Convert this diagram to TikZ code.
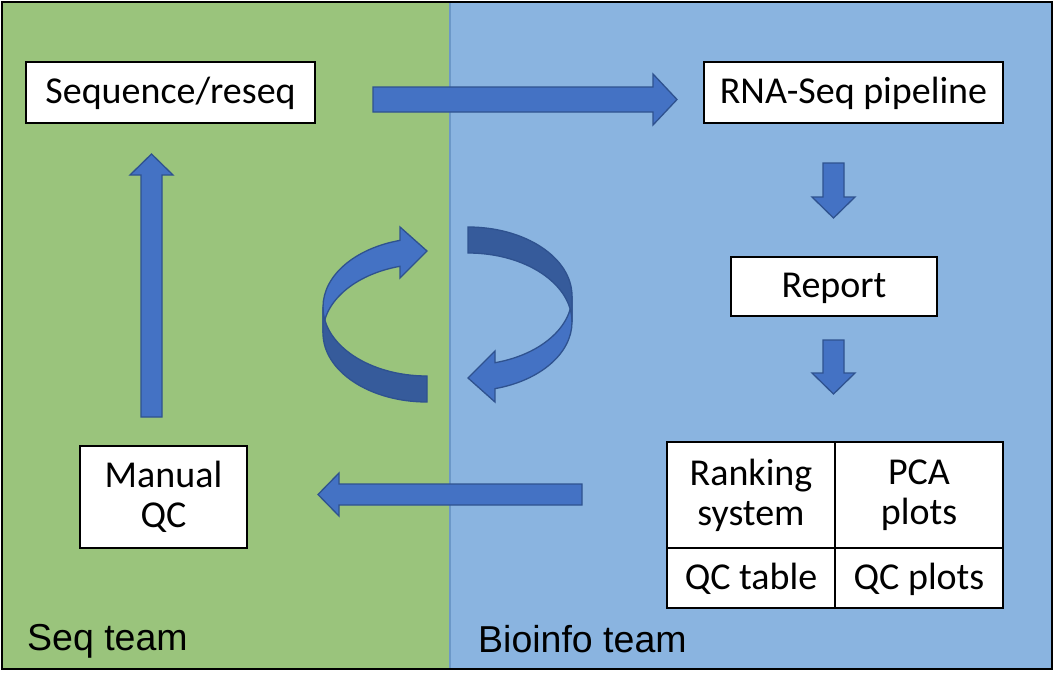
\documentclass[tikz,border=0pt]{standalone}
\usepackage{fontspec}
\setmainfont{Carlito}
\newfontfamily\teamfont{Liberation Sans}
\definecolor{seqgreen}{HTML}{9AC47C}
\definecolor{bioblue}{HTML}{8AB4E0}
\definecolor{arrowfill}{HTML}{4472C4}
\definecolor{arrowline}{HTML}{2F528F}
\definecolor{arrowdark}{HTML}{365B9B}
\definecolor{divider}{HTML}{6C98C8}
\newcommand{\curvedribbon}{%
  \draw[blockarrow] (323,307) arc[start angle=180, end angle=255, x radius=104, y radius=69]
    -- (400,227) -- (427,251) -- (400,278) -- (400,266.3)
    arc[start angle=255, end angle=180, x radius=104, y radius=69] -- cycle;
  \draw[blockarrow, fill=arrowdark] (323,307) arc[start angle=180, end angle=90, x radius=104, y radius=69]
    -- (427,402) arc[start angle=90, end angle=180, x radius=104, y radius=69] -- cycle;
}
\begin{document}
\begin{tikzpicture}[x=1pt,y=-1pt,
  box/.style={draw=black, line width=1.3pt, fill=white, inner sep=0pt,
    font=\fontsize{38}{40}\selectfont, align=center},
  onebox/.style={box, text height=28pt, text depth=6pt},
  blockarrow/.style={draw=arrowline, fill=arrowfill, line width=1.3pt, line join=miter},
  teamlabel/.style={anchor=base west, inner sep=0pt, font=\teamfont\fontsize{37.5}{44}\selectfont}]
\useasboundingbox (0,0) rectangle (1054,685);
\fill[seqgreen] (2,2) rectangle (450,669);
\fill[bioblue] (450,2) rectangle (1052,669);
\draw[divider, line width=1.5pt] (450,2) -- (450,669);
\draw[black, line width=2pt] (2,2) rectangle (1052,669);

% boxes
\node[onebox, minimum width=289pt, minimum height=61pt] (seq) at (170.5,92.5) {Sequence/reseq};
\node[onebox, minimum width=299pt, minimum height=61pt] (rna) at (853.5,92.5) {RNA-Seq pipeline};
\node[onebox, minimum width=206pt, minimum height=59pt] (report) at (834,286.5) {Report};
\node[box, minimum width=167pt, minimum height=102pt] (manual) at (163.5,497) {Manual\\QC};
\node[box, minimum width=168pt, minimum height=106pt] (rank) at (751,495) {Ranking\\system};
\node[box, minimum width=168pt, minimum height=106pt] (pca) at (919,495) {PCA\\plots};
\node[onebox, minimum width=168pt, minimum height=60pt] (qctable) at (751,578) {QC table};
\node[onebox, minimum width=168pt, minimum height=60pt] (qcplots) at (919,578) {QC plots};

% straight block arrows
\draw[blockarrow] (373,87) -- (653,87) -- (653,74) -- (677,99.5) -- (653,125) -- (653,112) -- (373,112) -- cycle;
\draw[blockarrow] (823,163) -- (844,163) -- (844,197) -- (855,197) -- (833.5,218) -- (812,197) -- (823,197) -- cycle;
\draw[blockarrow] (823,340) -- (844,340) -- (844,373) -- (855,373) -- (833.5,394) -- (812,373) -- (823,373) -- cycle;
\draw[blockarrow] (582,484) -- (339,484) -- (339,473) -- (318,494.5) -- (339,516) -- (339,505) -- (582,505) -- cycle;
\draw[blockarrow] (141,417) -- (141,175) -- (130,175) -- (151.5,154) -- (173,175) -- (162,175) -- (162,417) -- cycle;

% curved arrows
\curvedribbon
\begin{scope}[shift={(895,629)}, rotate=180]
\curvedribbon
\end{scope}

% team labels
\node[teamlabel] (seqteam) at (27,650) {Seq team};
\node[teamlabel] (bioteam) at (478,652) {Bioinfo team};
\end{tikzpicture}
\end{document}
